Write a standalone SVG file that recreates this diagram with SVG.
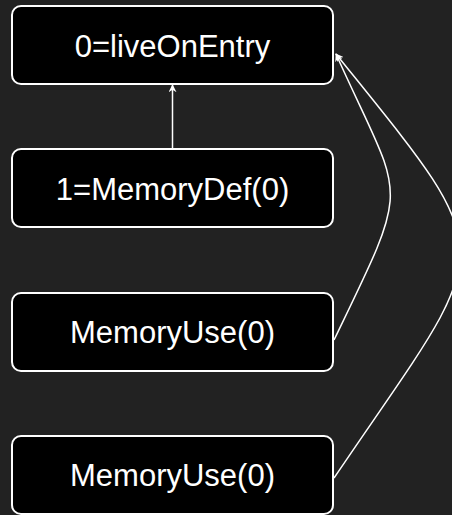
<svg xmlns="http://www.w3.org/2000/svg" width="452" height="515" viewBox="0 0 452 515">
<style>
.box{fill:#000;stroke:#fff;stroke-width:2}
.lbl{fill:#fff;font-family:"Liberation Sans",Arial,sans-serif;font-size:31px;text-anchor:middle}
.edge{fill:none;stroke:#fff;stroke-width:1.5}
</style>
<defs>
<marker id="ah" viewBox="0 0 10 10" refX="9" refY="5" markerWidth="8" markerHeight="8" markerUnits="userSpaceOnUse" orient="auto">
<path d="M0,0 L10,5 L0,10 L3,5 z" fill="#fff"/>
</marker>
</defs>
<rect x="0" y="0" width="452" height="515" fill="#222"/>
<g id="edges">
<path class="edge" d="M172.5,149 L172.5,85" marker-end="url(#ah)"/>
<path class="edge" d="M334,340 C413.5,175 404,206 336,54" marker-end="url(#ah)"/>
<path class="edge" d="M334,478 C497,237 507,267 336,54" marker-end="url(#ah)"/>
</g>
<g id="n0"><rect class="box" x="12" y="6" width="321" height="78" rx="9"/><text class="lbl" x="172.5" y="56.5">0=liveOnEntry</text></g>
<g id="n1"><rect class="box" x="12" y="149" width="321" height="78" rx="9"/><text class="lbl" x="172.5" y="199.5">1=MemoryDef(0)</text></g>
<g id="n2"><rect class="box" x="12" y="293" width="321" height="78" rx="9"/><text class="lbl" x="172.5" y="342.5">MemoryUse(0)</text></g>
<g id="n3"><rect class="box" x="12" y="436" width="321" height="78" rx="9"/><text class="lbl" x="172.5" y="486">MemoryUse(0)</text></g>
</svg>
